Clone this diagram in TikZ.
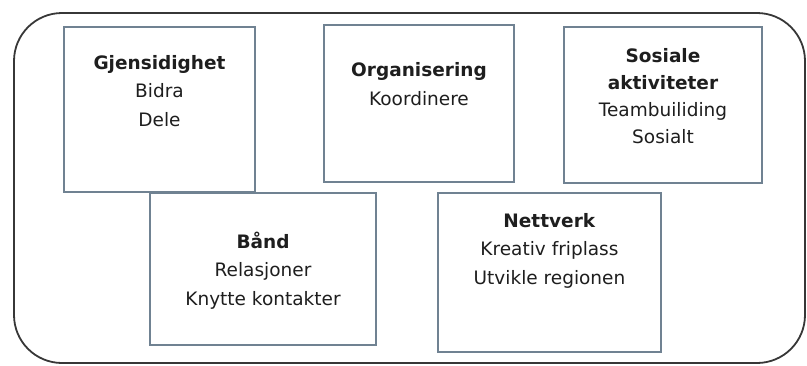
\documentclass[tikz,border=0pt]{standalone}
\usepackage{fontspec}
\setmainfont{DejaVu Sans}
\definecolor{boxline}{RGB}{112,130,146}
\definecolor{outerline}{RGB}{55,55,55}
\definecolor{txtcol}{RGB}{30,30,30}
\tikzset{
  panel/.style={draw=boxline, line width=1.3pt, fill=white, rectangle, inner sep=0pt},
  label/.style={align=center, text=txtcol, font=\fontsize{18.5}{28.5}\selectfont, inner sep=0pt, anchor=base},
}
\begin{document}
\begin{tikzpicture}[x=1pt,y=-1pt]
\useasboundingbox (0,0) rectangle (807,365);
\draw[outerline, line width=1.8pt, rounded corners=48pt] (14,13) rectangle (805,363);
% boxes
\node[panel, minimum width=191pt, minimum height=165pt] (b1) at (159.5,109.5) {};
\node[panel, minimum width=190pt, minimum height=157pt] (b2) at (419,103.5) {};
\node[panel, minimum width=198pt, minimum height=156pt] (b3) at (663,105) {};
\node[panel, minimum width=226pt, minimum height=152pt] (b4) at (263,269) {};
\node[panel, minimum width=223pt, minimum height=159pt] (b5) at (549.5,272.5) {};
% texts (anchor = baseline of last line)
\node[label] (t1) at (159.5,126) {\textbf{Gjensidighet}\\Bidra\\Dele};
\node[label] (t2) at (419,105) {\textbf{Organisering}\\Koordinere};
\node[label, font=\fontsize{18.5}{27}\selectfont] (t3) at (663,143) {\textbf{Sosiale}\\\textbf{aktiviteter}\\Teambuiliding\\Sosialt};
\node[label] (t4) at (263,305) {\textbf{Bånd}\\Relasjoner\\Knytte kontakter};
\node[label] (t5) at (549.5,284) {\textbf{Nettverk}\\Kreativ friplass\\Utvikle regionen};
\end{tikzpicture}
\end{document}
